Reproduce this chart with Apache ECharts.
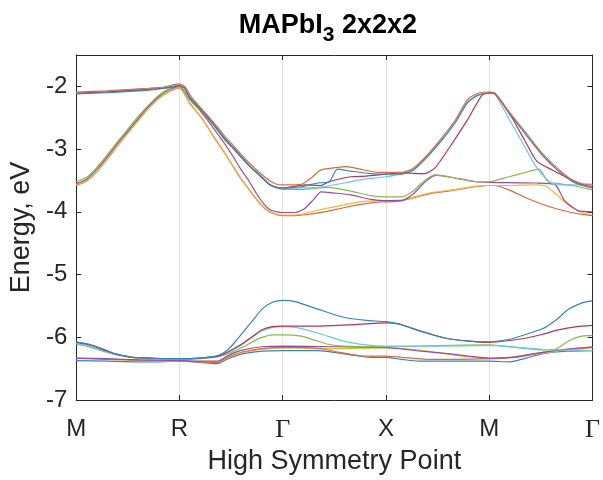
<!DOCTYPE html>
<html>
<head>
<meta charset="utf-8">
<script src="https://cdn.jsdelivr.net/npm/echarts@6/dist/echarts.min.js"></script>
<style>
  html, body { margin: 0; padding: 0; background: #fff; }
  #chart { width: 603px; height: 480px; }
</style>
</head>
<body>
<div id="chart"></div>
<script>
// k-path positions of the high symmetry points and their labels
const kTicks = [0, 1, 2, 3, 4, 5];
const kLabels = ['M', 'R', 'Γ', 'X', 'M', 'Γ'];
const energyTicks = [-7, -6, -5, -4, -3, -2];

// ---- upper bands (around -2 ... -4 eV), [k, E] pairs ----
const upOrangeLow = [[0,-3.58],[0.1,-3.51],[0.2,-3.36],[0.3,-3.16],[0.4,-2.95],[0.5,-2.74],[0.6,-2.54],[0.7,-2.35],[0.8,-2.19],[0.9,-2.08],[1.0,-2.03],
  [1.1,-2.27],[1.22,-2.52],[1.33,-2.8],[1.44,-3.07],[1.52,-3.28],[1.59,-3.46],[1.68,-3.66],[1.78,-3.87],[1.87,-4.0],[1.95,-4.05],[2.0,-4.06],
  [2.1,-4.06],[2.2,-4.05],[2.4,-4.0],[2.6,-3.93],[2.8,-3.87],[2.95,-3.84],[3.0,-3.84],
  [3.16,-3.82],[3.3,-3.76],[3.45,-3.7],[3.6,-3.67],[3.87,-3.6],[4.0,-3.58],
  [4.05,-3.58],[4.19,-3.65],[4.35,-3.77],[4.5,-3.87],[4.65,-3.95],[4.8,-4.01],[4.9,-4.04],[5.0,-4.06]];
const upYellow = [[0,-3.57],[0.1,-3.5],[0.2,-3.35],[0.3,-3.15],[0.4,-2.94],[0.5,-2.73],[0.6,-2.53],[0.7,-2.34],[0.8,-2.18],[0.9,-2.07],[1.0,-2.02],
  [1.1,-2.26],[1.22,-2.51],[1.33,-2.79],[1.44,-3.06],[1.52,-3.27],[1.59,-3.45],[1.68,-3.65],[1.78,-3.86],[1.87,-3.99],[1.95,-4.04],[2.0,-4.05],
  [2.1,-4.05],[2.2,-4.03],[2.35,-3.97],[2.5,-3.92],[2.65,-3.87],[2.81,-3.83],[3.0,-3.82],
  [3.16,-3.81],[3.3,-3.75],[3.45,-3.69],[3.6,-3.66],[3.87,-3.59],[4.0,-3.58],
  [4.2,-3.58],[4.4,-3.57],[4.54,-3.58],[4.62,-3.68],[4.7,-3.8],[4.8,-3.93],[4.9,-4.01],[5.0,-4.05]];
const upPurple = [[0,-3.55],[0.1,-3.48],[0.2,-3.32],[0.3,-3.12],[0.4,-2.91],[0.5,-2.71],[0.6,-2.51],[0.7,-2.32],[0.8,-2.16],[0.9,-2.05],[1.0,-2.0],
  [1.1,-2.21],[1.2,-2.39],[1.3,-2.6],[1.44,-2.92],[1.52,-3.12],[1.59,-3.31],[1.67,-3.5],[1.75,-3.72],[1.82,-3.88],[1.88,-3.97],[1.95,-4.0],[2.0,-4.01],
  [2.12,-4.01],[2.21,-3.95],[2.3,-3.8],[2.37,-3.68],[2.5,-3.7],[2.66,-3.73],[2.85,-3.8],[3.0,-3.82],
  [3.15,-3.82],[3.26,-3.72],[3.38,-3.52],[3.48,-3.42],[3.6,-3.44],[3.87,-3.52],[4.0,-3.53],
  [4.45,-3.54],[4.64,-3.57],[4.73,-3.82],[4.86,-3.98],[5.0,-4.0]];
const upGreen = [[0,-3.52],[0.1,-3.45],[0.2,-3.29],[0.3,-3.09],[0.4,-2.88],[0.5,-2.68],[0.6,-2.48],[0.7,-2.3],[0.8,-2.14],[0.9,-2.04],[1.0,-1.99],
  [1.1,-2.2],[1.2,-2.38],[1.28,-2.52],[1.36,-2.68],[1.44,-2.86],[1.52,-2.99],[1.59,-3.12],[1.68,-3.28],[1.78,-3.43],[1.87,-3.57],[1.94,-3.62],[2.0,-3.64],
  [2.18,-3.64],[2.44,-3.61],[2.66,-3.67],[2.85,-3.74],[3.0,-3.76],
  [3.15,-3.76],[3.26,-3.67],[3.38,-3.49],[3.48,-3.41],[3.67,-3.46],[3.89,-3.52],[4.0,-3.52],
  [4.19,-3.44],[4.33,-3.38],[4.48,-3.32],[4.57,-3.52],[4.67,-3.55],[4.8,-3.58],[5.0,-3.65]];
const upLightBlue = [[0,-2.1],[0.3,-2.08],[0.5,-2.06],[0.7,-2.04],[0.85,-2.02],[0.95,-1.99],[1.0,-1.98],
  [1.05,-2.02],[1.1,-2.17],[1.2,-2.35],[1.28,-2.5],[1.36,-2.66],[1.44,-2.83],[1.52,-2.97],[1.59,-3.1],[1.68,-3.27],[1.78,-3.42],[1.87,-3.56],[1.94,-3.61],[2.0,-3.63],
  [2.15,-3.62],[2.34,-3.61],[2.53,-3.56],[2.75,-3.49],[3.0,-3.44],
  [3.16,-3.39],[3.26,-3.33],[3.38,-3.14],[3.54,-2.85],[3.67,-2.57],[3.79,-2.25],[3.89,-2.14],[4.0,-2.11],
  [4.05,-2.12],[4.22,-2.6],[4.34,-2.95],[4.45,-3.27],[4.55,-3.47],[4.64,-3.57],[4.8,-3.57],[5.0,-3.57]];
const upDarkRed = [[0,-2.11],[0.3,-2.09],[0.5,-2.07],[0.7,-2.05],[0.85,-2.03],[0.95,-2.0],[1.0,-1.99],
  [1.05,-2.03],[1.1,-2.18],[1.2,-2.36],[1.28,-2.51],[1.36,-2.67],[1.44,-2.84],[1.52,-2.98],[1.59,-3.11],[1.68,-3.27],[1.78,-3.42],[1.87,-3.56],[1.94,-3.61],[2.0,-3.62],
  [2.21,-3.57],[2.37,-3.58],[2.45,-3.52],[2.66,-3.44],[2.81,-3.43],[3.0,-3.4],
  [3.16,-3.38],[3.38,-3.39],[3.48,-3.29],[3.64,-2.91],[3.79,-2.53],[3.93,-2.14],[4.0,-2.1],
  [4.05,-2.11],[4.22,-2.5],[4.34,-2.85],[4.46,-3.19],[4.62,-3.34],[4.8,-3.49],[4.9,-3.56],[5.0,-3.6]];
const upBlue = [[0,-2.12],[0.3,-2.1],[0.5,-2.08],[0.7,-2.06],[0.85,-2.03],[0.95,-2.0],[1.0,-1.99],
  [1.05,-2.03],[1.1,-2.18],[1.2,-2.36],[1.28,-2.51],[1.36,-2.67],[1.44,-2.84],[1.52,-2.98],[1.59,-3.11],[1.68,-3.27],[1.78,-3.42],[1.87,-3.56],[1.94,-3.61],[2.0,-3.62],
  [2.18,-3.6],[2.34,-3.54],[2.45,-3.52],[2.53,-3.32],[2.66,-3.35],[2.85,-3.39],[3.0,-3.4],
  [3.15,-3.4],[3.26,-3.34],[3.38,-3.16],[3.54,-2.86],[3.67,-2.58],[3.79,-2.26],[3.89,-2.14],[4.0,-2.11],
  [4.05,-2.11],[4.19,-2.42],[4.35,-2.76],[4.51,-3.09],[4.67,-3.35],[4.8,-3.51],[4.9,-3.58],[5.0,-3.62]];
const upOrangeTop = [[0,-2.09],[0.3,-2.07],[0.5,-2.05],[0.7,-2.03],[0.85,-2.01],[0.95,-1.97],[1.0,-1.96],
  [1.05,-2.0],[1.12,-2.18],[1.2,-2.33],[1.28,-2.48],[1.36,-2.63],[1.44,-2.8],[1.52,-2.94],[1.59,-3.07],[1.68,-3.23],[1.78,-3.38],[1.87,-3.5],[1.94,-3.56],[2.0,-3.57],
  [2.18,-3.56],[2.29,-3.44],[2.37,-3.33],[2.53,-3.29],[2.62,-3.28],[2.75,-3.32],[2.92,-3.37],[3.0,-3.37],
  [3.16,-3.37],[3.26,-3.31],[3.38,-3.13],[3.54,-2.82],[3.67,-2.54],[3.79,-2.21],[3.89,-2.11],[4.0,-2.09],
  [4.05,-2.1],[4.19,-2.4],[4.35,-2.73],[4.51,-3.06],[4.67,-3.32],[4.8,-3.49],[4.89,-3.55],[5.0,-3.56]];

// ---- lower bands (around -5.4 ... -6.4 eV) ----
const lowBlueTop = [[0,-6.07],[0.1,-6.1],[0.2,-6.15],[0.3,-6.21],[0.37,-6.26],[0.45,-6.29],[0.54,-6.32],[0.7,-6.33],[0.85,-6.34],[1.0,-6.34],
  [1.2,-6.33],[1.37,-6.29],[1.46,-6.21],[1.54,-6.07],[1.62,-5.91],[1.7,-5.75],[1.8,-5.55],[1.9,-5.44],[2.0,-5.41],
  [2.12,-5.43],[2.34,-5.55],[2.59,-5.68],[2.81,-5.73],[3.0,-5.75],
  [3.13,-5.79],[3.26,-5.86],[3.35,-5.91],[3.57,-6.01],[3.8,-6.06],[4.0,-6.07],
  [4.2,-6.03],[4.36,-5.95],[4.52,-5.86],[4.65,-5.72],[4.77,-5.55],[4.9,-5.45],[5.0,-5.42]];
const lowDarkRed = [[0,-6.08],[0.1,-6.11],[0.2,-6.16],[0.3,-6.22],[0.37,-6.26],[0.45,-6.29],[0.54,-6.32],[0.7,-6.33],[0.85,-6.34],[1.0,-6.34],
  [1.2,-6.33],[1.37,-6.3],[1.46,-6.24],[1.62,-6.09],[1.72,-5.97],[1.8,-5.88],[1.9,-5.83],[2.0,-5.82],
  [2.34,-5.82],[2.66,-5.8],[3.0,-5.77],
  [3.13,-5.79],[3.26,-5.86],[3.57,-6.01],[3.8,-6.06],[4.0,-6.08],
  [4.2,-6.05],[4.36,-6.01],[4.52,-5.95],[4.67,-5.88],[4.85,-5.83],[5.0,-5.81]];
const lowLightBlue = [[0,-6.1],[0.1,-6.13],[0.2,-6.18],[0.3,-6.23],[0.37,-6.26],[0.54,-6.32],[0.85,-6.34],[1.0,-6.35],
  [1.2,-6.33],[1.37,-6.3],[1.46,-6.25],[1.62,-6.1],[1.72,-5.98],[1.8,-5.9],[1.9,-5.84],[2.0,-5.83],
  [2.12,-5.84],[2.34,-5.93],[2.59,-6.06],[2.81,-6.12],[3.0,-6.14],
  [3.5,-6.14],[4.0,-6.13],
  [4.26,-6.16],[4.52,-6.19],[4.7,-6.2],[5.0,-6.21]];
const lowGreen = [[0,-6.11],[0.1,-6.14],[0.2,-6.19],[0.3,-6.24],[0.37,-6.27],[0.54,-6.32],[0.85,-6.34],[1.0,-6.35],
  [1.2,-6.34],[1.37,-6.31],[1.46,-6.27],[1.62,-6.15],[1.72,-6.06],[1.8,-6.0],[1.9,-5.96],[2.0,-5.96],
  [2.18,-5.98],[2.3,-6.04],[2.44,-6.11],[2.59,-6.14],[3.0,-6.15],
  [3.5,-6.13],[4.0,-6.12],
  [4.26,-6.16],[4.52,-6.2],[4.64,-6.19],[4.72,-6.11],[4.8,-6.03],[4.9,-5.98],[5.0,-5.97]];
const lowPurple = [[0,-6.33],[0.3,-6.34],[0.6,-6.36],[1.0,-6.37],
  [1.2,-6.38],[1.37,-6.38],[1.46,-6.3],[1.54,-6.24],[1.62,-6.2],[1.8,-6.15],[2.0,-6.14],
  [2.5,-6.15],[3.0,-6.16],
  [3.29,-6.21],[3.6,-6.26],[3.8,-6.3],[4.0,-6.33],
  [4.2,-6.32],[4.36,-6.28],[4.52,-6.24],[4.75,-6.19],[5.0,-6.15]];
const lowOrange = [[0,-6.33],[0.3,-6.35],[0.6,-6.36],[1.0,-6.37],
  [1.2,-6.39],[1.37,-6.4],[1.46,-6.32],[1.54,-6.27],[1.62,-6.23],[1.8,-6.18],[2.0,-6.16],
  [2.2,-6.16],[2.4,-6.19],[2.55,-6.24],[2.66,-6.27],[2.81,-6.3],[3.0,-6.3],
  [3.1,-6.31],[3.42,-6.35],[3.7,-6.35],[4.0,-6.34],
  [4.26,-6.32],[4.52,-6.24],[4.75,-6.19],[5.0,-6.16]];
const lowYellow = [[0,-6.34],[0.3,-6.35],[0.6,-6.37],[1.0,-6.38],
  [1.2,-6.39],[1.37,-6.4],[1.46,-6.33],[1.54,-6.28],[1.62,-6.24],[1.8,-6.19],[2.0,-6.17],
  [2.5,-6.18],[3.0,-6.17],
  [3.3,-6.2],[3.57,-6.26],[3.8,-6.31],[4.0,-6.34],
  [4.26,-6.31],[4.52,-6.25],[4.75,-6.2],[5.0,-6.17]];
const lowBlueBottom = [[0,-6.37],[0.3,-6.38],[0.6,-6.39],[0.8,-6.39],[1.0,-6.38],
  [1.2,-6.4],[1.37,-6.42],[1.46,-6.35],[1.54,-6.3],[1.62,-6.26],[1.8,-6.22],[2.0,-6.21],
  [2.35,-6.21],[2.5,-6.24],[2.66,-6.28],[2.85,-6.32],[3.0,-6.32],
  [3.15,-6.35],[3.32,-6.38],[3.7,-6.38],[4.0,-6.38],
  [4.2,-6.39],[4.36,-6.33],[4.52,-6.26],[4.75,-6.22],[5.0,-6.21]];

// line colours (default plotting colour order)
const colors = {
  blue: '#2f86c6', orange: '#e06a38', yellow: '#efb93e', purple: '#9150a3',
  green: '#86bb4c', lightBlue: '#68c8ef', darkRed: '#b43651'
};

const bands = [
  [lowBlueBottom, colors.blue], [lowYellow, colors.yellow], [lowOrange, colors.orange],
  [lowPurple, colors.purple], [lowGreen, colors.green], [lowLightBlue, colors.lightBlue],
  [lowDarkRed, colors.darkRed], [lowBlueTop, colors.blue],
  [upOrangeLow, colors.orange], [upYellow, colors.yellow], [upPurple, colors.purple],
  [upGreen, colors.green], [upLightBlue, colors.lightBlue], [upDarkRed, colors.darkRed],
  [upBlue, colors.blue], [upOrangeTop, colors.orange]
];

const axisColor = '#262626';
const font = 'Liberation Sans, Arial, Helvetica, sans-serif';

const chart = echarts.init(document.getElementById('chart'), null, { renderer: 'canvas' });

chart.setOption({
  animation: false,
  backgroundColor: '#ffffff',
  grid: { left: 72, right: 8, top: 55, bottom: 65, containLabel: false },
  graphic: [{
    type: 'text',
    x: 328, y: 12,
    style: {
      text: '{a|MAPbI}{s|3}{a| 2x2x2}',
      align: 'center',
      fill: '#000',
      rich: {
        a: { fontFamily: font, fontSize: 27, fontWeight: 'bold', lineHeight: 27, verticalAlign: 'top', fill: '#000' },
        s: { fontFamily: font, fontSize: 21, fontWeight: 'bold', lineHeight: 21, verticalAlign: 'top', padding: [13, 0, 0, 0], fill: '#000' }
      }
    }
  }],
  xAxis: [{
    type: 'value', min: 0, max: 5, interval: 1, position: 'bottom',
    name: 'High Symmetry Point', nameLocation: 'middle', nameGap: 37,
    nameTextStyle: { fontFamily: font, fontSize: 27, color: axisColor },
    axisLine: { show: true, onZero: false, lineStyle: { color: axisColor, width: 1 } },
    axisTick: { show: true, inside: true, length: 5, lineStyle: { color: axisColor } },
    axisLabel: {
      margin: 17, fontFamily: font, fontSize: 24, color: axisColor,
      formatter: v => {
        const lab = kLabels[kTicks.indexOf(Math.round(v))] || '';
        return lab === 'Γ' ? '{g|Γ}' : lab;
      },
      rich: { g: { fontFamily: 'Liberation Serif, Times New Roman, serif', fontSize: 26, color: axisColor } }
    },
    splitLine: { show: true, lineStyle: { color: '#e2e2e2', width: 1 } }
  }, {
    type: 'value', min: 0, max: 5, interval: 1, position: 'top',
    axisLine: { show: true, onZero: false, lineStyle: { color: axisColor, width: 1 } },
    axisTick: { show: true, inside: true, length: 5, lineStyle: { color: axisColor } },
    axisLabel: { show: false }, splitLine: { show: false }
  }],
  yAxis: [{
    type: 'value', min: -7, max: -1.5, interval: 1, position: 'left',
    name: 'Energy, eV', nameLocation: 'middle', nameGap: 40,
    nameTextStyle: { fontFamily: font, fontSize: 27, color: axisColor },
    axisLine: { show: true, onZero: false, lineStyle: { color: axisColor, width: 1 } },
    axisTick: { show: true, inside: true, length: 5, lineStyle: { color: axisColor } },
    axisLabel: {
      margin: 9, fontFamily: font, fontSize: 24, color: axisColor,
      formatter: v => energyTicks.includes(Math.round(v * 100) / 100) ? String(v) : ''
    },
    splitLine: { show: false }
  }, {
    type: 'value', min: -7, max: -1.5, interval: 1, position: 'right',
    axisLine: { show: true, onZero: false, lineStyle: { color: axisColor, width: 1 } },
    axisTick: { show: true, inside: true, length: 5, lineStyle: { color: axisColor } },
    axisLabel: { show: false }, splitLine: { show: false }
  }],
  series: bands.map(([data, color]) => ({
    type: 'line',
    data: data,
    xAxisIndex: 0, yAxisIndex: 0,
    showSymbol: false,
    smooth: 0.2,
    lineStyle: { color: color, width: 1.2 },
    emphasis: { disabled: true }
  }))
});
</script>
</body>
</html>
